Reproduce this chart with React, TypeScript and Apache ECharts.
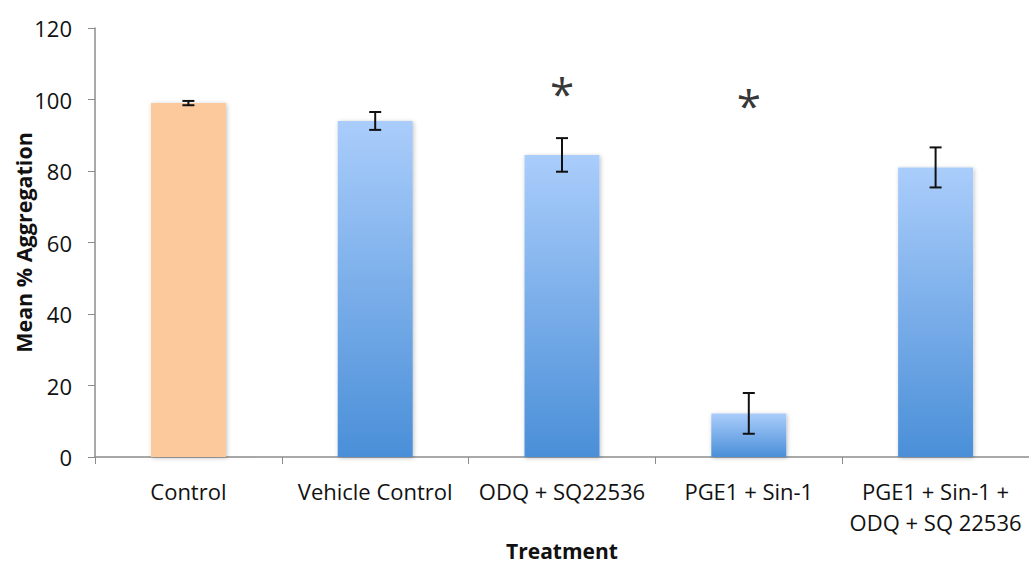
import React, { useEffect, useRef } from "react";
import * as echarts from "echarts";

const categories = ["Control", "Vehicle Control", "ODQ + SQ22536", "PGE1 + Sin-1", "PGE1 + Sin-1 +\nODQ + SQ 22536"];
const means = [99.0, 94.0, 84.5, 12.2, 81.0];
const errors = [0.6, 2.5, 4.7, 5.7, 5.6];
const starValues = [null, null, 103, 99.5, null];
const yTicks = { min: 0, max: 120, interval: 20 };

export default function App() {
  const ref = useRef<HTMLDivElement>(null);
  useEffect(() => {
    if (!ref.current) return;
    const chart = echarts.init(ref.current, undefined, { renderer: "svg" });
    const font = "'Open Sans', sans-serif";
    const blue = new echarts.graphic.LinearGradient(0, 0, 0, 1, [
      { offset: 0, color: "#aacdfb" },
      { offset: 1, color: "#4a8fd8" },
    ]);
    const barData = means.map((v, i) => ({
      value: v,
      itemStyle: i === 0 ? { color: "#fbc99b" } : { color: blue },
    }));
    const errData = means.map((v, i) => [i, v - errors[i], v + errors[i]]);
    const starData = starValues.map((v, i) => (v == null ? null : [i, v])).filter((d) => d) as number[][];
    chart.setOption({
      animation: false,
      grid: { left: 95, right: 0, top: 28, bottom: 106, outerBoundsMode: "none" },
      xAxis: {
        type: "category",
        data: categories,
        name: "Treatment",
        nameLocation: "middle",
        nameGap: 83,
        nameMoveOverlap: false,
        nameTextStyle: { fontFamily: font, fontWeight: "bold", fontSize: 21, color: "#111" },
        axisLine: { lineStyle: { color: "#8c8c8c", width: 1.5 } },
        axisTick: { show: true, length: 7, lineStyle: { color: "#8c8c8c" } },
        axisLabel: { fontFamily: font, fontSize: 22, color: "#111", margin: 18, lineHeight: 31, interval: 0 },
      },
      yAxis: {
        type: "value",
        min: yTicks.min,
        max: yTicks.max,
        interval: yTicks.interval,
        name: "Mean % Aggregation",
        nameLocation: "middle",
        nameGap: 61,
        nameMoveOverlap: false,
        nameRotate: 90,
        nameTextStyle: { fontFamily: font, fontWeight: "bold", fontSize: 21.5, color: "#111" },
        axisLine: { show: true, lineStyle: { color: "#8c8c8c", width: 1.5 } },
        axisTick: { show: true, length: 7, lineStyle: { color: "#8c8c8c" } },
        splitLine: { show: false },
        axisLabel: { fontFamily: font, fontSize: 22, color: "#111", margin: 23 },
      },
      series: [
        {
          type: "bar",
          data: barData,
          barWidth: 75,
          itemStyle: { shadowBlur: 4, shadowColor: "rgba(0,0,0,0.25)", shadowOffsetX: 1, shadowOffsetY: 1 },
        },
        {
          type: "custom",
          data: errData,
          z: 10,
          renderItem: (params: any, api: any) => {
            const x = api.value(0);
            const lo = api.coord([x, api.value(1)]);
            const hi = api.coord([x, api.value(2)]);
            const cap = 6;
            const style = { stroke: "#111", lineWidth: 2 };
            return {
              type: "group",
              children: [
                { type: "line", shape: { x1: lo[0], y1: lo[1], x2: hi[0], y2: hi[1] }, style },
                { type: "line", shape: { x1: lo[0] - cap, y1: lo[1], x2: lo[0] + cap, y2: lo[1] }, style },
                { type: "line", shape: { x1: hi[0] - cap, y1: hi[1], x2: hi[0] + cap, y2: hi[1] }, style },
              ],
            };
          },
        },
        {
          type: "scatter",
          data: starData,
          symbolSize: 0,
          label: {
            show: true,
            position: "inside",
            formatter: "*",
            fontFamily: font,
            fontSize: 44,
            color: "#000",
            offset: [0, 4],
          },
        },
      ],
    });
    return () => chart.dispose();
  }, []);
  return <div ref={ref} style={{ position: "absolute", left: 0, top: 0, width: 1029, height: 563, background: "#fff" }} />;
}
